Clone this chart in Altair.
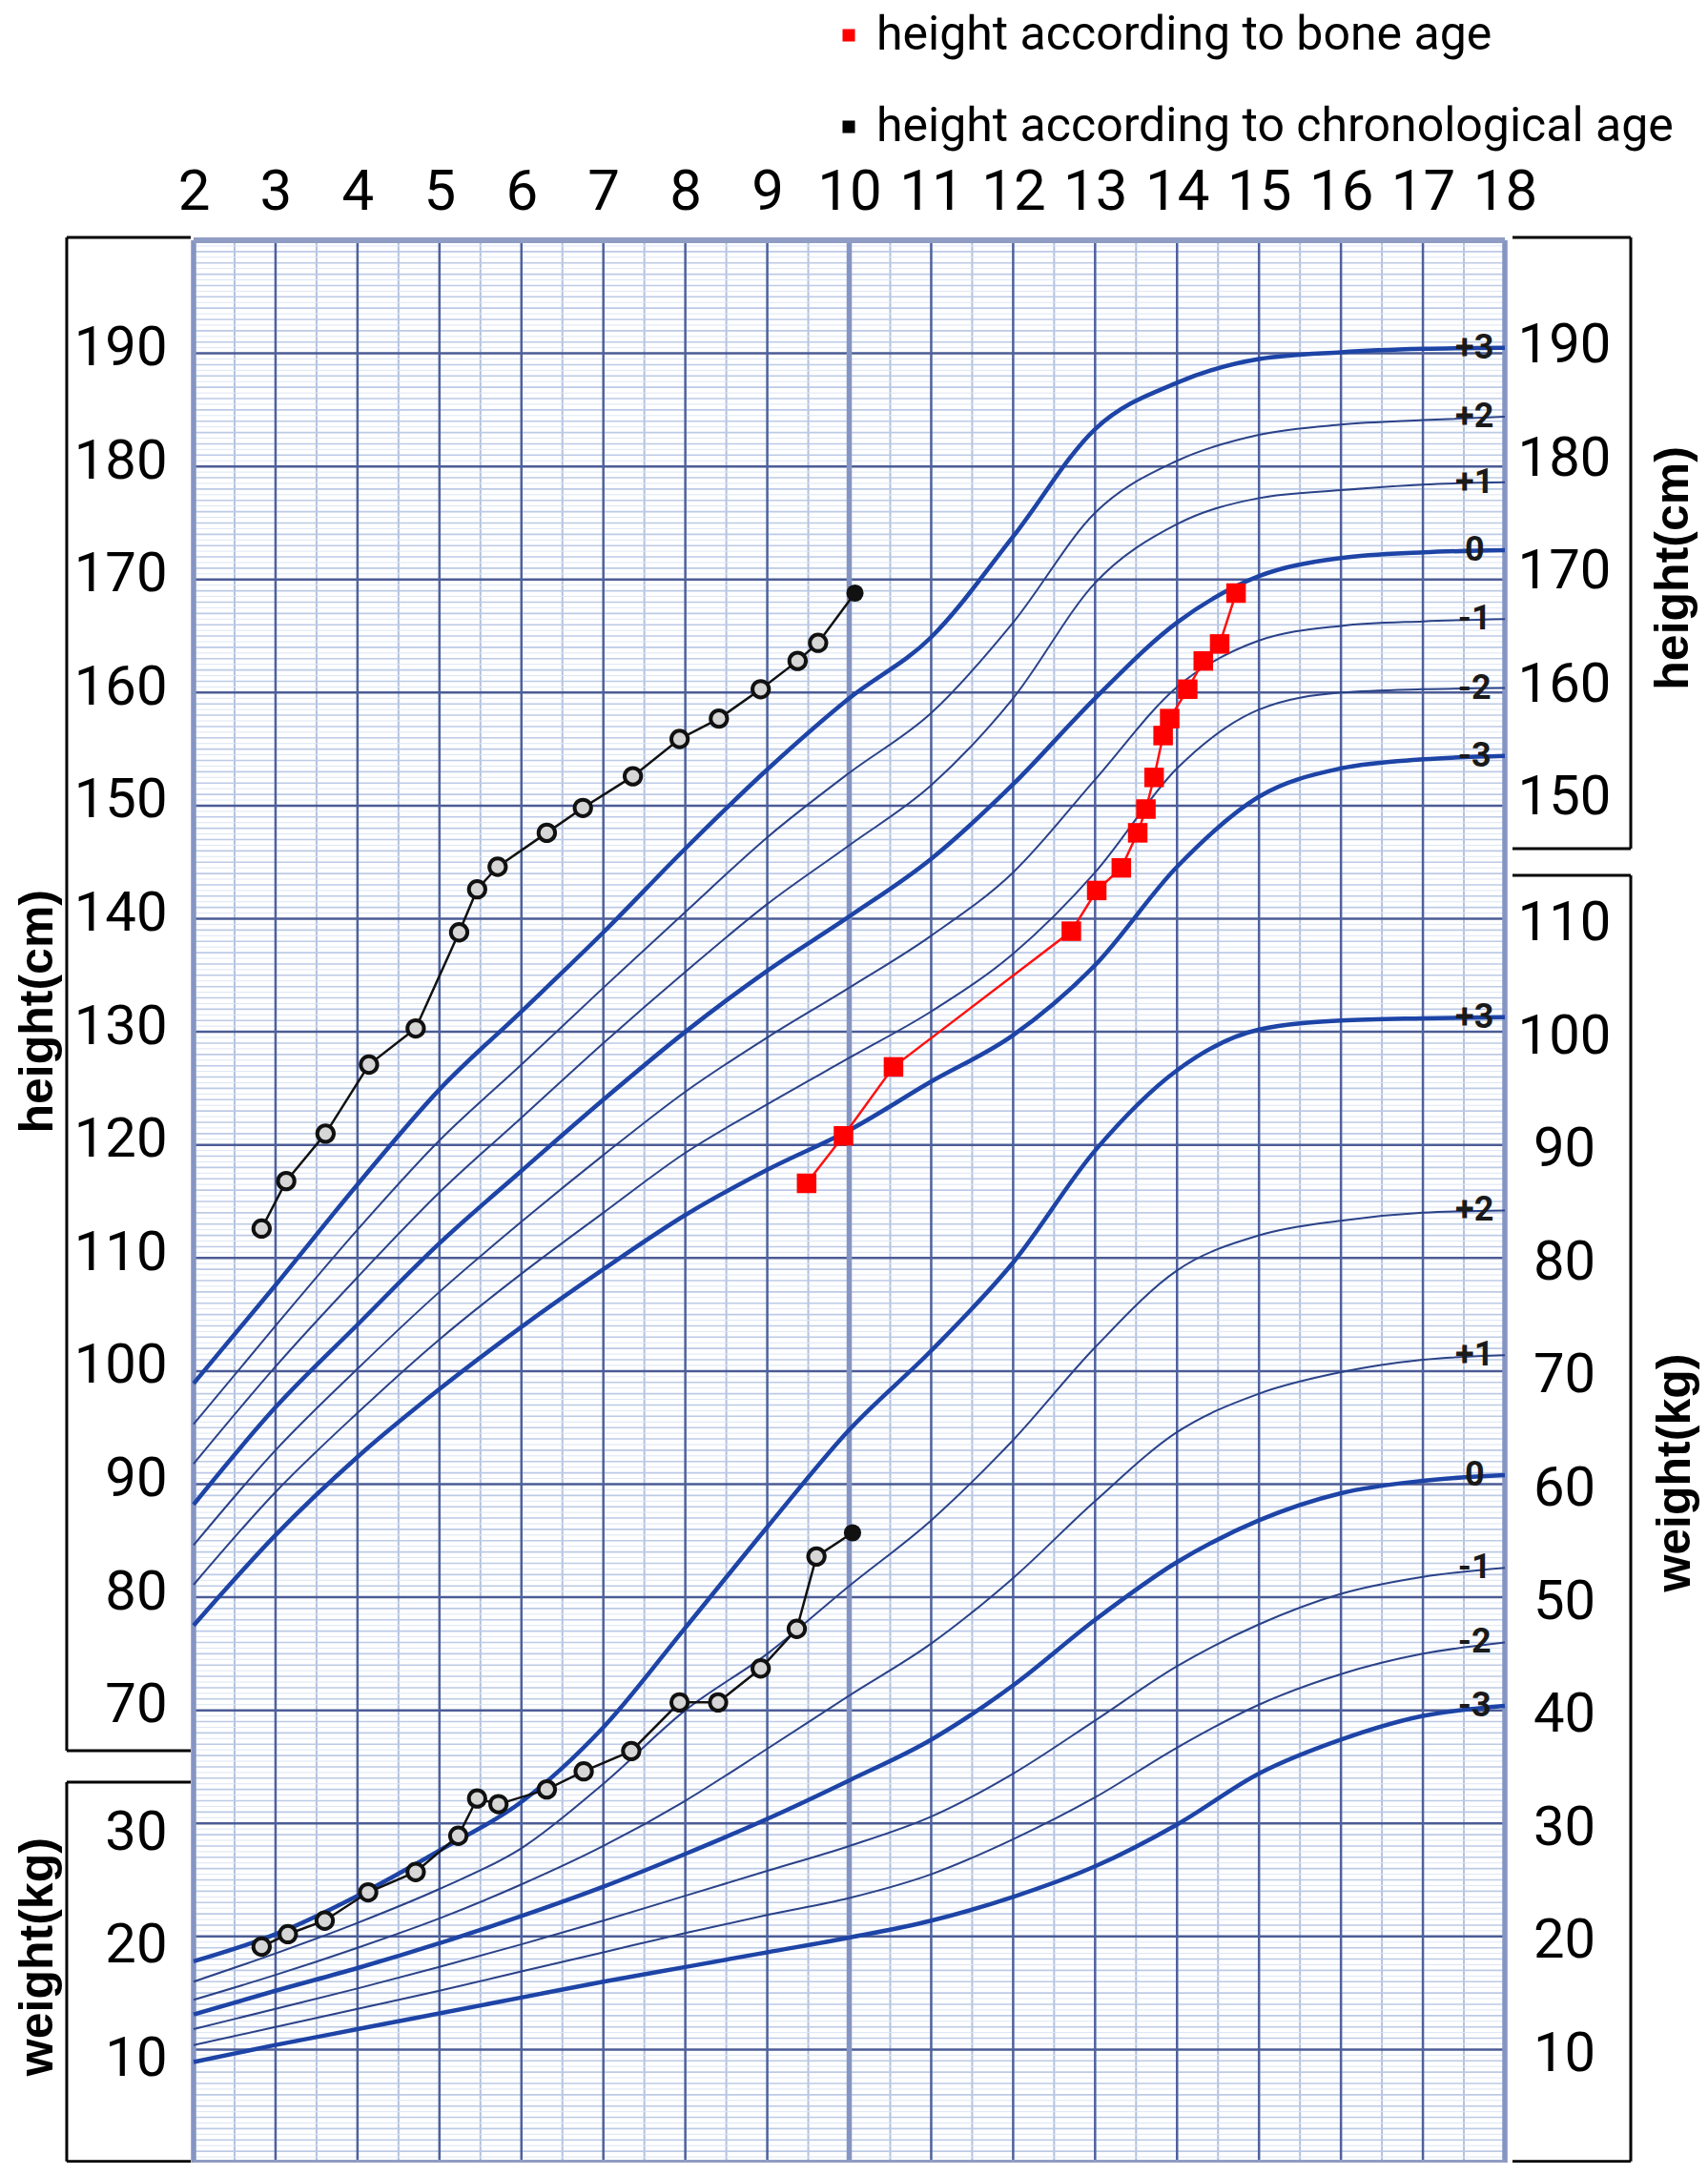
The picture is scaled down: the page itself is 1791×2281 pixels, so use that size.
import altair as alt
import pandas as pd
import numpy as np

# ---------------- data ----------------
AGES = list(range(2, 19))
SD_LABELS = ["+3", "+2", "+1", "0", "-1", "-2", "-3"]
THICK = ["+3", "0", "-3"]

# height reference curves (cm) at ages 2..18
H_P3 = [98.9, 107.6, 116.5, 124.9, 131.8, 138.8, 146.2, 153.2, 159.5, 164.9, 173.8, 183.3, 187.4, 189.5, 190.1, 190.4, 190.5]
H_P2 = [95.3, 104.0, 112.5, 120.4, 127.1, 133.9, 140.6, 147.2, 152.9, 158.2, 166.2, 175.9, 180.5, 182.8, 183.7, 184.1, 184.4]
H_P1 = [91.8, 100.4, 108.3, 115.8, 122.4, 129.0, 135.3, 141.3, 146.5, 151.8, 159.5, 169.7, 174.9, 177.2, 177.9, 178.4, 178.6]
H_0 = [88.2, 96.8, 104.1, 111.3, 117.7, 124.0, 130.0, 135.4, 140.2, 145.3, 151.9, 159.5, 166.2, 170.3, 171.9, 172.4, 172.6]
H_M1 = [84.6, 93.0, 100.2, 107.0, 113.2, 119.1, 124.7, 129.5, 133.9, 138.5, 144.1, 152.3, 160.5, 164.6, 165.9, 166.3, 166.5]
H_M2 = [81.1, 89.3, 96.3, 102.8, 108.6, 114.0, 119.3, 123.6, 127.7, 131.8, 136.9, 144.1, 153.3, 158.5, 160.0, 160.3, 160.4]
H_M3 = [77.5, 85.5, 92.4, 98.4, 103.9, 109.0, 113.8, 117.8, 121.3, 125.6, 129.7, 135.9, 144.6, 150.8, 153.3, 154.1, 154.4]
HEIGHT_CURVES = [H_P3, H_P2, H_P1, H_0, H_M1, H_M2, H_M3]

# weight reference curves (kg) at ages 2..18
W_P3 = [17.8, 20.2, 23.6, 27.6, 31.9, 38.5, 47.3, 56.2, 64.8, 71.8, 79.6, 89.5, 96.6, 100.2, 101.0, 101.2, 101.3]
W_P2 = [16.0, 18.5, 21.2, 24.2, 27.8, 33.5, 40.0, 45.0, 51.0, 56.8, 63.9, 72.1, 78.9, 82.0, 83.3, 84.0, 84.2]
W_P1 = [14.4, 16.6, 19.0, 21.6, 24.6, 28.0, 32.0, 36.6, 41.3, 45.9, 51.7, 58.5, 64.6, 68.0, 69.9, 71.0, 71.4]
W_0 = [13.1, 15.2, 17.2, 19.4, 21.8, 24.4, 27.3, 30.4, 33.8, 37.4, 42.2, 48.0, 53.1, 56.8, 59.2, 60.3, 60.8]
W_M1 = [11.8, 13.6, 15.4, 17.3, 19.3, 21.4, 23.6, 25.8, 28.0, 30.6, 34.4, 39.1, 43.9, 47.6, 50.3, 51.8, 52.6]
W_M2 = [10.4, 12.0, 13.6, 15.2, 16.9, 18.6, 20.3, 21.9, 23.4, 25.5, 28.6, 32.3, 36.7, 40.5, 43.2, 45.0, 46.0]
W_M3 = [8.9, 10.4, 11.8, 13.2, 14.6, 16.0, 17.3, 18.6, 19.9, 21.4, 23.5, 26.2, 29.9, 34.4, 37.4, 39.5, 40.4]
WEIGHT_CURVES = [W_P3, W_P2, W_P1, W_0, W_M1, W_M2, W_M3]

# patient: height by chronological age
CHRONO_AGE = [2.83, 3.13, 3.61, 4.14, 4.71, 5.24, 5.46, 5.71, 6.31, 6.75, 7.36, 7.93, 8.41, 8.92, 9.37, 9.62, 10.07]
CHRONO_HEIGHT = [112.6, 116.8, 121.0, 127.1, 130.3, 138.8, 142.6, 144.6, 147.6, 149.8, 152.6, 155.9, 157.7, 160.3, 162.8, 164.4, 168.8]
# patient: height by bone age
BONE_AGE = [9.48, 9.93, 10.54, 12.71, 13.02, 13.32, 13.52, 13.62, 13.72, 13.83, 13.91, 14.13, 14.32, 14.52, 14.72]
BONE_HEIGHT = [116.6, 120.8, 126.9, 138.9, 142.5, 144.5, 147.6, 149.7, 152.5, 156.2, 157.7, 160.3, 162.8, 164.3, 168.8]
# patient: weight by chronological age
WEIGHT_AGE = [2.83, 3.15, 3.60, 4.13, 4.71, 5.23, 5.46, 5.72, 6.31, 6.76, 7.34, 7.93, 8.40, 8.92, 9.36, 9.60, 10.04]
WEIGHT_KG = [19.1, 20.2, 21.4, 23.9, 25.7, 28.9, 32.2, 31.7, 33.0, 34.6, 36.4, 40.7, 40.7, 43.7, 47.2, 53.6, 55.7]

X_TICKS = list(range(2, 19))
Y_TICKS = list(range(40, 200, 10))
LEGEND_LABELS = ["height according to bone age", "height according to chronological age"]
WEIGHT_SHIFT = 30  # the weight grid is drawn 30 units below the height grid (70 cm <-> 40 kg)

# ---------------- style ----------------
FONT_N = "'Liberation Sans Narrow', 'Arial Narrow', Roboto, 'Liberation Sans', sans-serif"
FONT_B = "'Liberation Sans', Arial, sans-serif"
THICK_COL = "#1d44a6"
THIN_COL = "#2a4288"

X = alt.Scale(domain=[2, 18], nice=False, zero=False)
Y = alt.Scale(domain=[30, 200], nice=False, zero=False)

# ---------------- frames ----------------
def curves_frame(curves):
    rows = []
    for lab, vals in zip(SD_LABELS, curves):
        for a, v in zip(AGES, vals):
            rows.append({"age": a, "val": v, "sd": lab, "thick": lab in THICK})
    return pd.DataFrame(rows)

df_hc = curves_frame(HEIGHT_CURVES)
df_wc = curves_frame(WEIGHT_CURVES)
df_hlab = pd.DataFrame({"sd": SD_LABELS, "val": [c[-1] for c in HEIGHT_CURVES], "age": 17.63})
df_wlab = pd.DataFrame({"sd": SD_LABELS, "val": [c[-1] for c in WEIGHT_CURVES], "age": 17.63})

n = len(CHRONO_AGE)
df_chrono = pd.DataFrame({"age": CHRONO_AGE, "h": CHRONO_HEIGHT, "last": [i == n - 1 for i in range(n)]})
df_bone = pd.DataFrame({"age": BONE_AGE, "h": BONE_HEIGHT, "series": LEGEND_LABELS[0]})
m = len(WEIGHT_AGE)
df_w = pd.DataFrame({"age": WEIGHT_AGE, "w": WEIGHT_KG, "last": [i == m - 1 for i in range(m)]})

vgrid = pd.DataFrame({"age": np.arange(2, 18.001, 0.5)})
hgrid = pd.DataFrame({"h": np.arange(30, 200.001, 0.5)})

# ---------------- axes ----------------
top_axis = alt.Axis(orient="top", values=X_TICKS, ticks=False, domain=False, grid=False,
                    labelFont=FONT_N, labelFontSize=60, labelColor="black", labelPadding=20,
                    labelFlush=False, labelOverlap=False, title=None)
left_axis = alt.Axis(orient="left", values=Y_TICKS, ticks=False, domain=False, grid=False,
                     labelExpr="datum.value >= 70 ? datum.value : datum.value - 30",
                     labelFont=FONT_N, labelFontSize=58, labelColor="black", labelPadding=28,
                     labelAlign="right", labelBaseline="middle", labelFlush=False, labelOverlap=False,
                     labelOffset={"condition": {"test": "datum.value >= 70", "value": -5}, "value": 10},
                     title=None)
right_axis = alt.Axis(orient="right", values=Y_TICKS, ticks=False, domain=False, grid=False,
                      labelExpr="datum.value >= 150 ? datum.value : datum.value - 30",
                      labelFont=FONT_N, labelFontSize=58, labelColor="black", labelPadding=62,
                      labelAlign="center", labelBaseline="middle", labelFlush=False, labelOverlap=False,
                      labelOffset={"condition": {"test": "datum.value >= 150", "value": -8}, "value": 5},
                      title=None)

# ---------------- grid ----------------
def hrule(filt, color, width):
    return alt.Chart(hgrid).transform_filter(filt).mark_rule(color=color, strokeWidth=width).encode(
        y=alt.Y("h:Q", scale=Y, axis=None))

def vrule(filt, color, width, axis=None):
    return alt.Chart(vgrid).transform_filter(filt).mark_rule(color=color, strokeWidth=width).encode(
        x=alt.X("age:Q", scale=X, axis=axis))

grid = [
    vrule("datum.age % 1 != 0", "#b3c1de", 2, axis=top_axis),
    hrule("datum.h % 1 != 0", "#dde5f3", 1),
    hrule("datum.h % 1 == 0 && datum.h % 10 != 0", "#bccae6", 1.6),
    hrule("datum.h % 10 == 0 && datum.h < 200 && datum.h > 30", "#4b5c96", 2.5),
    vrule("datum.age % 1 == 0 && datum.age != 2 && datum.age != 10 && datum.age != 18", "#4e619c", 2.5),
    vrule("datum.age == 2 || datum.age == 10 || datum.age == 18", "#8595c3", 5.5),
    hrule("datum.h == 200 || datum.h == 30", "#8f9cc4", 6),
]

# ---------------- reference curves ----------------
h_thin = alt.Chart(df_hc).transform_filter("!datum.thick").mark_line(
    color=THIN_COL, strokeWidth=2, interpolate="monotone").encode(
    x=alt.X("age:Q", scale=X, axis=None),
    y=alt.Y("val:Q", scale=Y, axis=left_axis),
    detail="sd:N")
h_thick = alt.Chart(df_hc).transform_filter("datum.thick").mark_line(
    color=THICK_COL, strokeWidth=4.5, interpolate="monotone").encode(
    x=alt.X("age:Q", scale=X, axis=None),
    y=alt.Y("val:Q", scale=Y, axis=None),
    detail="sd:N")
w_thin = alt.Chart(df_wc).transform_filter("!datum.thick").transform_calculate(
    yv=f"datum.val + {WEIGHT_SHIFT}").mark_line(
    color=THIN_COL, strokeWidth=2, interpolate="monotone").encode(
    x=alt.X("age:Q", scale=X, axis=None),
    y=alt.Y("yv:Q", scale=Y, axis=right_axis),
    detail="sd:N")
w_thick = alt.Chart(df_wc).transform_filter("datum.thick").transform_calculate(
    yv=f"datum.val + {WEIGHT_SHIFT}").mark_line(
    color=THICK_COL, strokeWidth=4.5, interpolate="monotone").encode(
    x=alt.X("age:Q", scale=X, axis=None),
    y=alt.Y("yv:Q", scale=Y, axis=None),
    detail="sd:N")

lab_style = dict(font=FONT_N, fontSize=36, fontWeight="bold", color="#1a1a1a", align="center", baseline="middle")
h_lab = alt.Chart(df_hlab).mark_text(**lab_style).encode(
    x=alt.X("age:Q", scale=X, axis=None), y=alt.Y("val:Q", scale=Y, axis=None), text="sd:N")
w_lab = alt.Chart(df_wlab).transform_calculate(yv=f"datum.val + {WEIGHT_SHIFT}").mark_text(**lab_style).encode(
    x=alt.X("age:Q", scale=X, axis=None), y=alt.Y("yv:Q", scale=Y, axis=None), text="sd:N")

# ---------------- patient data ----------------
PT_OPEN = dict(shape="circle", size=300, filled=True, fill="#d6d6d6", stroke="#111111", strokeWidth=4, opacity=1)
PT_LAST = dict(shape="circle", size=330, filled=True, color="#111111", opacity=1)

chrono_line = alt.Chart(df_chrono).mark_line(color="#111111", strokeWidth=2.5).encode(
    x=alt.X("age:Q", scale=X, axis=None), y=alt.Y("h:Q", scale=Y, axis=None))
chrono_open = alt.Chart(df_chrono).transform_filter("!datum.last").mark_point(**PT_OPEN).encode(
    x=alt.X("age:Q", scale=X, axis=None), y=alt.Y("h:Q", scale=Y, axis=None))
chrono_last = alt.Chart(df_chrono).transform_filter("datum.last").mark_point(**PT_LAST).encode(
    x=alt.X("age:Q", scale=X, axis=None), y=alt.Y("h:Q", scale=Y, axis=None))

bone_line = alt.Chart(df_bone).mark_line(color="#ff1010", strokeWidth=2.5).encode(
    x=alt.X("age:Q", scale=X, axis=None), y=alt.Y("h:Q", scale=Y, axis=None))
bone_pts = alt.Chart(df_bone).mark_square(size=420, opacity=1).encode(
    x=alt.X("age:Q", scale=X, axis=None), y=alt.Y("h:Q", scale=Y, axis=None),
    color=alt.Color("series:N",
                    scale=alt.Scale(domain=LEGEND_LABELS, range=["#ff0000", "#000000"]),
                    legend=alt.Legend(orient="none", legendX=662, legendY=-240, title=None,
                                      symbolType="square", symbolSize=170, symbolStrokeWidth=0,
                                      symbolOpacity=1, labelFont=FONT_N, labelFontSize=50,
                                      labelColor="black", labelLimit=2000, labelOffset=4,
                                      rowPadding=46, padding=0)))

w_line = alt.Chart(df_w).transform_calculate(yv=f"datum.w + {WEIGHT_SHIFT}").mark_line(
    color="#111111", strokeWidth=2.5).encode(
    x=alt.X("age:Q", scale=X, axis=None), y=alt.Y("yv:Q", scale=Y, axis=None))
w_open = alt.Chart(df_w).transform_filter("!datum.last").transform_calculate(
    yv=f"datum.w + {WEIGHT_SHIFT}").mark_point(**PT_OPEN).encode(
    x=alt.X("age:Q", scale=X, axis=None), y=alt.Y("yv:Q", scale=Y, axis=None))
w_last = alt.Chart(df_w).transform_filter("datum.last").transform_calculate(
    yv=f"datum.w + {WEIGHT_SHIFT}").mark_point(**PT_LAST).encode(
    x=alt.X("age:Q", scale=X, axis=None), y=alt.Y("yv:Q", scale=Y, axis=None))

# ---------------- axis brackets and side titles (annotation positions in data units) ----------------
BR_L, BR_LI, BR_RI, BR_R = 0.452, 1.965, 18.093, 19.536
df_br = pd.DataFrame({
    "a1": [BR_L, BR_L, BR_L, BR_L, BR_L, BR_L, BR_R, BR_RI, BR_RI, BR_R, BR_RI, BR_RI],
    "a2": [BR_L, BR_LI, BR_LI, BR_L, BR_LI, BR_LI, BR_R, BR_R, BR_R, BR_R, BR_R, BR_R],
    "h1": [200.25, 200.25, 66.43, 63.65, 63.65, 30.1, 200.25, 200.25, 146.2, 143.84, 143.84, 30.1],
    "h2": [66.43, 200.25, 66.43, 30.1, 63.65, 30.1, 146.2, 200.25, 146.2, 30.1, 143.84, 30.1],
})
brackets = alt.Chart(df_br).mark_rule(color="black", strokeWidth=3).encode(
    x=alt.X("a1:Q", scale=X, axis=None), x2="a2:Q",
    y=alt.Y("h1:Q", scale=Y, axis=None), y2="h2:Q")

df_titles = pd.DataFrame({"text": ["height(cm)", "weight(kg)", "height(cm)", "weight(kg)"],
                          "age": [0.1, 0.1, 20.06, 20.08],
                          "h": [131.8, 48.2, 171.0, 91.0]})
titles = alt.Chart(df_titles).mark_text(font=FONT_B, fontSize=50, fontWeight="bold", color="black",
                                        angle=270, align="center", baseline="middle").encode(
    x=alt.X("age:Q", scale=X, axis=None), y=alt.Y("h:Q", scale=Y, axis=None), text="text:N")

layers = grid + [h_thin, h_thick, w_thin, w_thick, h_lab, w_lab,
                 w_line, w_open, w_last, chrono_line, chrono_open, chrono_last,
                 bone_line, bone_pts, brackets, titles]

chart = alt.layer(*layers).resolve_axis(x="independent", y="independent").properties(
    width=1375, height=2016,
    autosize=alt.AutoSizeParams(type="none"),
    padding={"left": 195, "top": 244, "right": 205, "bottom": 0},
    background="white",
).configure_view(strokeWidth=0)

chart.save("out.html", embed_options={"renderer": "svg", "actions": False})
